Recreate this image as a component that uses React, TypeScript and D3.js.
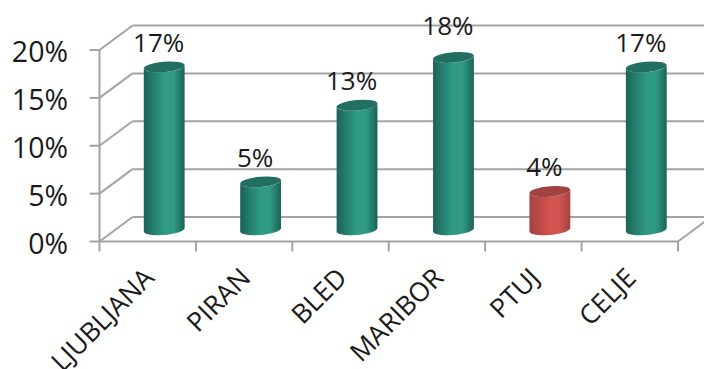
import React from "react";
import * as d3 from "d3";

const categories = ["LJUBLJANA", "PIRAN", "BLED", "MARIBOR", "PTUJ", "CELJE"];
const shares = [17, 5, 13, 18, 4, 17];
const highlighted = ["PTUJ"];
const axisTicks = [0, 5, 10, 15, 20];

const width = 704;
const height = 369;
const depthX = 33;
const depthY = -24.5;
const gridColor = "#a3a3a3";
const font = "'Open Sans', sans-serif";

const x = d3.scaleBand<string>().domain(categories).range([99.5, 678]);
const y = d3.scaleLinear().domain([0, 20]).range([241.5, 50]);
const pct = (v: number) => `${v}%`;

const rx = 20.5;
const ry = 5.2;
const tiltRad = (-5 * Math.PI) / 180;

// Point on a tilted ellipse centred at (cx, cy); angle 0 is the right end, PI/2 the front.
function rimPoint(cx: number, cy: number, a: number): [number, number] {
  const ex = rx * Math.cos(a);
  const ey = ry * Math.sin(a);
  return [
    cx + ex * Math.cos(tiltRad) - ey * Math.sin(tiltRad),
    cy + ex * Math.sin(tiltRad) + ey * Math.cos(tiltRad),
  ];
}

const rimAngles = d3.range(0, 25).map((k) => (k / 24) * Math.PI);
const outline = d3.line();

// Cylinder side: the front half of the base rim, closed by the front half of the top rim.
function cylinderSide(cx: number, top: number, base: number) {
  const lower = rimAngles.map((a) => rimPoint(cx, base, a));
  const upper = rimAngles.map((a) => rimPoint(cx, top, a)).reverse();
  return outline([...lower, ...upper]) + "Z";
}

function Gradient({ id, edge, mid }: { id: string; edge: string; mid: string }) {
  return (
    <linearGradient id={id} x1="0" x2="1" y1="0" y2="0">
      <stop offset="0" stopColor={edge} />
      <stop offset="0.5" stopColor={mid} />
      <stop offset="0.72" stopColor={mid} />
      <stop offset="1" stopColor={edge} />
    </linearGradient>
  );
}

export default function App() {
  const left = x.range()[0];
  const right = x.range()[1];
  const baseY = y(0) + depthY / 2 + 0.5;
  const tallest = d3.max(shares);
  return (
    <svg
      width={width}
      height={height}
      viewBox={`0 0 ${width} ${height}`}
      style={{ position: "absolute", left: 0, top: 0, background: "#fff" }}
      fontFamily={font}
      fill="#1a1a1a"
    >
      <defs>
        <Gradient id="teal" edge="#1c6357" mid="#2f9b87" />
        <Gradient id="red" edge="#a34241" mid="#d25350" />
      </defs>

      {/* back wall gridlines and side wall diagonals */}
      <g stroke={gridColor} strokeWidth={2} fill="none">
        {axisTicks.map((t) => (
          <g key={t}>
            <line x1={left - 10} x2={left} y1={y(t)} y2={y(t)} />
            <line x1={left} x2={left + depthX} y1={y(t)} y2={y(t) + depthY} />
            <line x1={left + depthX} x2={width} y1={y(t) + depthY} y2={y(t) + depthY} />
          </g>
        ))}
        <line x1={left} x2={left} y1={y(20)} y2={y(0) + 10} />
        <line x1={left} x2={right} y1={y(0)} y2={y(0)} />
        <line x1={right} x2={right + depthX} y1={y(0)} y2={y(0) + depthY} />
        {categories.map((c) => (
          <line key={c} x1={x(c)! + x.bandwidth()} x2={x(c)! + x.bandwidth()} y1={y(0)} y2={y(0) + 10} />
        ))}
      </g>

      {/* cylinders */}
      {categories.map((c, i) => {
        const cx = x(c)! + x.bandwidth() / 2 + depthX / 2;
        const top = y(shares[i]) + depthY / 2 + 0.5;
        const isRed = highlighted.includes(c);
        // The tallest bar's label sits a little higher than the others.
        const labelGap = shares[i] === tallest ? 22 : 15;
        return (
          <g key={c}>
            <path d={cylinderSide(cx, top, baseY)} fill={`url(#${isRed ? "red" : "teal"})`} />
            <ellipse
              cx={cx}
              cy={top}
              rx={rx}
              ry={ry}
              transform={`rotate(-5 ${cx} ${top})`}
              fill={isRed ? "#a04341" : "#226f62"}
            />
            <text x={cx - 5.5} y={top - labelGap} fontSize={26} textAnchor="middle">
              {pct(shares[i])}
            </text>
          </g>
        );
      })}

      {/* value axis labels */}
      {axisTicks.map((t) => (
        <text key={t} x={68} y={y(t) + 12} fontSize={28.5} textAnchor="end">
          {pct(t)}
        </text>
      ))}

      {/* category labels */}
      {categories.map((c) => {
        const px = x(c)! + x.bandwidth() / 2 + 8;
        const py = 279.5;
        return (
          <text key={c} x={px} y={py} fontSize={26.5} textAnchor="end" transform={`rotate(-45 ${px} ${py})`}>
            {c}
          </text>
        );
      })}
    </svg>
  );
}
